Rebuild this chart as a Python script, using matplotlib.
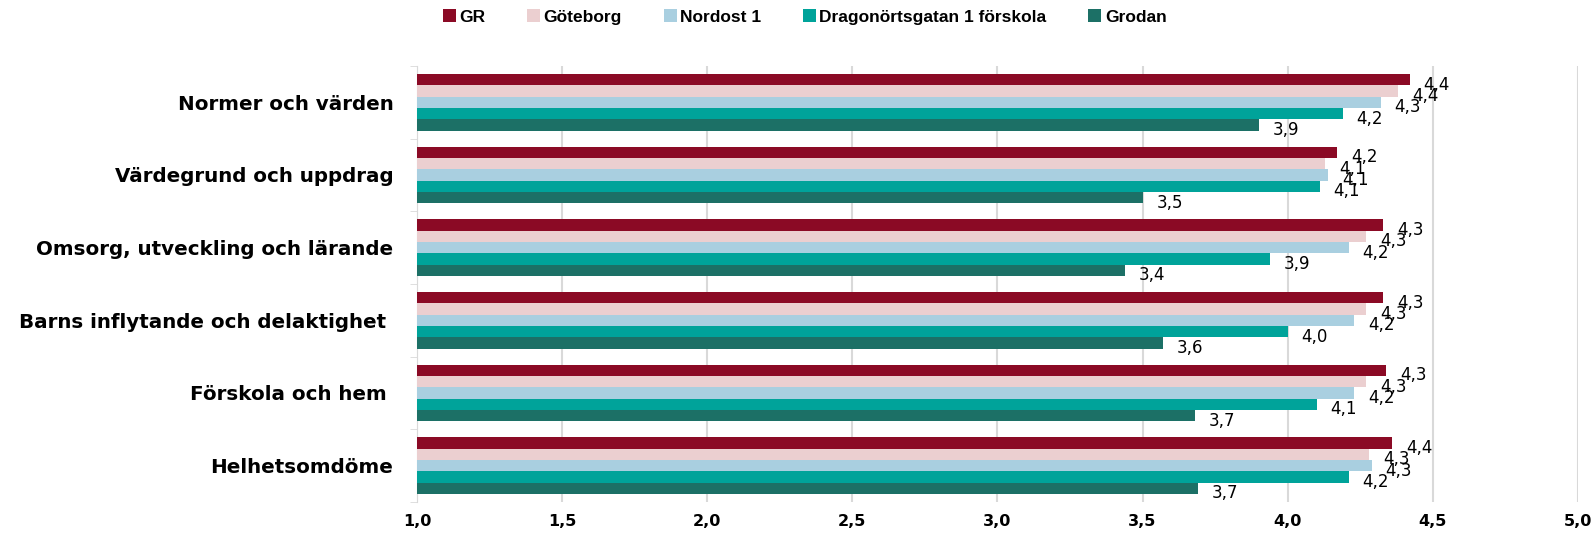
import matplotlib
matplotlib.use('Agg')
import matplotlib.pyplot as plt
import numpy as np

plt.rcParams['font.family'] = ['Liberation Sans', 'DejaVu Sans']

# data
categories = ['Normer och värden', 'Värdegrund och uppdrag', 'Omsorg, utveckling och lärande',
              'Barns inflytande och delaktighet ', 'Förskola och hem ', 'Helhetsomdöme']
series = ['GR', 'Göteborg', 'Nordost 1', 'Dragonörtsgatan 1 förskola', 'Grodan']
gr = [4.42, 4.17, 4.33, 4.33, 4.34, 4.36]
goteborg = [4.38, 4.13, 4.27, 4.27, 4.27, 4.28]
nordost = [4.32, 4.14, 4.21, 4.23, 4.23, 4.29]
dragon = [4.19, 4.11, 3.94, 4.00, 4.10, 4.21]
grodan = [3.90, 3.50, 3.44, 3.57, 3.68, 3.69]
xticks = [1.0, 1.5, 2.0, 2.5, 3.0, 3.5, 4.0, 4.5, 5.0]

colors = ['#8B0A25', '#EBCFD0', '#A9CFE0', '#00A39A', '#1C7066']
values = [gr, goteborg, nordost, dragon, grodan]

fig = plt.figure(figsize=(15.95, 5.33), dpi=100)
ax = fig.add_axes([0.2614, 0.0582, 0.7279, 0.818])

n = len(categories)
y = np.arange(n)
h = 0.78 / len(series)
for i, (name, vals, c) in enumerate(zip(series, values, colors)):
    pos = y - 0.39 + h * (i + 0.5)
    ax.barh(pos, np.array(vals) - 1.0, left=1.0, height=h, color=c, label=name, zorder=3)
    for p, v in zip(pos, vals):
        ax.annotate(f'{v:.1f}'.replace('.', ','), (v, p), xytext=(10, -3.5),
                    textcoords='offset points', ha='left', va='center',
                    fontsize=12, family='DejaVu Sans', color='black', zorder=4)

ax.set_xlim(1.0, 5.0)
ax.set_ylim(n - 0.5, -0.5)
ax.set_xticks(xticks)
ax.set_xticklabels([f'{t:.1f}'.replace('.', ',') for t in xticks], fontsize=11.5,
                   fontweight='bold', family='DejaVu Sans')
ax.tick_params(axis='x', length=0, pad=9)
ax.set_yticks(y)
ax.set_yticklabels(categories, fontsize=14.3, fontweight='bold', family='DejaVu Sans')
ax.tick_params(axis='y', length=0, pad=17)
ax.set_yticks(np.arange(n + 1) - 0.5, minor=True)
ax.tick_params(axis='y', which='minor', length=5, color='#D9D9D9')
ax.grid(axis='x', color='#D9D9D9', linewidth=1.5, zorder=0)
for s in ['top', 'right', 'bottom']:
    ax.spines[s].set_visible(False)
ax.spines['left'].set_color('#D9D9D9')

ax.legend(loc='center', bbox_to_anchor=(0.334, 1.112), ncol=5, frameon=False,
          prop={'size': 12.5, 'weight': 'bold'}, handlelength=0.75, handleheight=0.75,
          handletextpad=0.2, columnspacing=2.4)

fig.savefig('out.png', dpi=100)
